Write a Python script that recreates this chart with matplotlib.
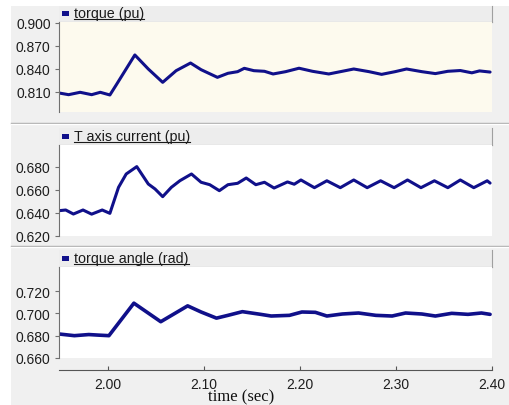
import matplotlib
matplotlib.use("Agg")
import matplotlib.pyplot as plt
from matplotlib.patches import Rectangle
from matplotlib.lines import Line2D
from matplotlib.transforms import Affine2D

# values (time in s)
torque_t = [1.949, 1.959, 1.971, 1.983, 1.992, 2.002, 2.009, 2.028, 2.042, 2.057,
            2.071, 2.086, 2.097, 2.114, 2.125, 2.135, 2.142, 2.152, 2.163, 2.172,
            2.185, 2.199, 2.213, 2.230, 2.244, 2.256, 2.272, 2.285, 2.299, 2.311,
            2.327, 2.341, 2.354, 2.367, 2.379, 2.387, 2.398]
torque_v = [0.8087, 0.8065, 0.8096, 0.8065, 0.8096, 0.8061, 0.8200, 0.8583, 0.8400, 0.8226,
            0.8378, 0.8478, 0.8391, 0.8291, 0.8344, 0.8365, 0.8409, 0.8378, 0.8370, 0.8335,
            0.8365, 0.8410, 0.8370, 0.8335, 0.8370, 0.8400, 0.8365, 0.8330, 0.8365, 0.8400,
            0.8365, 0.8340, 0.8370, 0.8380, 0.8350, 0.8375, 0.8360]

current_t = [1.949, 1.956, 1.964, 1.974, 1.983, 1.994, 2.002, 2.011, 2.019, 2.030,
             2.042, 2.049, 2.057, 2.066, 2.075, 2.087, 2.097, 2.106, 2.116, 2.125,
             2.135, 2.144, 2.154, 2.163, 2.173, 2.187, 2.194, 2.201, 2.215, 2.228,
             2.242, 2.256, 2.270, 2.284, 2.298, 2.312, 2.326, 2.340, 2.354, 2.367,
             2.381, 2.395, 2.398]
current_v = [0.6420, 0.6426, 0.6391, 0.6426, 0.6390, 0.6426, 0.6397, 0.6623, 0.6739, 0.6803,
             0.6652, 0.6609, 0.6542, 0.6623, 0.6681, 0.6739, 0.6667, 0.6646, 0.6594, 0.6646,
             0.6658, 0.6704, 0.6646, 0.6667, 0.6617, 0.6670, 0.6650, 0.6687, 0.6620, 0.6680,
             0.6620, 0.6687, 0.6620, 0.6680, 0.6620, 0.6687, 0.6620, 0.6680, 0.6620, 0.6687,
             0.6620, 0.6680, 0.6660]

angle_t = [1.949, 1.965, 1.980, 1.990, 2.001, 2.027, 2.055, 2.083, 2.097, 2.113,
           2.125, 2.140, 2.159, 2.170, 2.189, 2.202, 2.216, 2.228, 2.244, 2.261,
           2.279, 2.296, 2.310, 2.327, 2.341, 2.358, 2.375, 2.389, 2.398]
angle_v = [0.6815, 0.6800, 0.6810, 0.6805, 0.6800, 0.7091, 0.6925, 0.7067, 0.7012, 0.6957,
           0.6982, 0.7015, 0.6991, 0.6976, 0.6982, 0.7012, 0.7009, 0.6976, 0.6994, 0.7003,
           0.6982, 0.6976, 0.7003, 0.6994, 0.6976, 0.7000, 0.6991, 0.7003, 0.6991]

titles = ["torque (pu)", "T axis current (pu)", "torque angle (rad)"]
yticks = [[0.810, 0.840, 0.870, 0.900],
          [0.620, 0.640, 0.660, 0.680],
          [0.660, 0.680, 0.700, 0.720]]
xticks = [2.00, 2.10, 2.20, 2.30, 2.40]

W, H = 509, 406
fig = plt.figure(figsize=(W / 100, H / 100), dpi=100, facecolor="white")
pix = Affine2D().scale(1 / W, -1 / H).translate(0, 1) + fig.transFigure
SANS = "Liberation Sans"
NAVY = "#10108a"


def box(x0, y0, x1, y1):
    return [x0 / W, 1 - y1 / H, (x1 - x0) / W, (y1 - y0) / H]


fig.patches.append(Rectangle((11, 7), W - 11, H - 7, transform=pix,
                             facecolor="#f0f0f0", edgecolor="none", zorder=-10))

# separators between panels
for ys in (124, 247):
    fig.add_artist(Line2D([11, W], [ys, ys], transform=pix, color="#a9a9a9", lw=1))
    fig.add_artist(Line2D([11, W], [ys + 1, ys + 1], transform=pix, color="white", lw=1))

# (plot top, plot bottom, header top, text baseline, ylim, face, lw)
layout = [
    (23, 113, 7, 18, (0.7839, 0.9013), "#fdfaee", 2.2),
    (146, 237, 129, 141, (0.620, 0.6991), "white", 2.2),
    (268, 359, 251, 263, (0.660, 0.7415), "white", 2.6),
]
series = [(torque_t, torque_v), (current_t, current_v), (angle_t, angle_v)]

texts = []
for i, (py0, py1, hy0, base, ylim, face, lw) in enumerate(layout):
    hax = fig.add_axes(box(59, hy0, 492, py0))
    hax.set_facecolor("#ededed")
    hax.set_xticks([])
    hax.set_yticks([])
    for s in ("top", "left"):
        hax.spines[s].set_visible(False)
    for s in ("right", "bottom"):
        hax.spines[s].set_color("#a0a0a0")

    fig.patches.append(Rectangle((62, base - 6), 7, 4.5, transform=pix,
                                 facecolor=NAVY, edgecolor="none", zorder=5))
    txt = fig.text(74 / W, 1 - base / H, titles[i], fontsize=10.3, family=SANS,
                   color="#1a1a1a", va="baseline", ha="left", zorder=5)
    texts.append((txt, base))

    ax = fig.add_axes(box(59, py0, 492, py1))
    ax.set_facecolor(face)
    t, v = series[i]
    ax.plot(t, v, color=NAVY, lw=lw, solid_joinstyle="round", solid_capstyle="round")
    ax.set_xlim(1.949, 2.40)
    ax.set_ylim(*ylim)
    ax.set_xticks([])
    ax.set_yticks(yticks[i])
    ax.set_yticklabels([f"{y:.3f}" for y in yticks[i]], family=SANS)
    for s in ("top", "right", "bottom"):
        ax.spines[s].set_visible(False)
    ax.spines["left"].set_color("#707070")
    ax.tick_params(axis="y", length=3, width=0.8, color="#707070",
                   labelsize=10, labelcolor="#1e1e1e", pad=3)

# bottom time axis
xax = fig.add_axes(box(59, 360, 492, 371))
xax.patch.set_visible(False)
xax.set_xlim(1.949, 2.40)
xax.set_yticks([])
xax.set_xticks(xticks)
xax.set_xticklabels([f"{x:.2f}" for x in xticks], family=SANS)
for s in ("top", "left", "right"):
    xax.spines[s].set_visible(False)
xax.spines["bottom"].set_color("#555555")
xax.tick_params(axis="x", direction="in", length=3, width=0.8, color="#555555",
                labelsize=10, labelcolor="#1e1e1e", pad=5)
fig.text(241.5 / W, 1 - 401 / H, "time (sec)", fontsize=12, family="Liberation Serif",
         color="#111111", ha="center", va="baseline")

# underline the panel titles
renderer = fig.canvas.get_renderer()
for txt, base in texts:
    bb = txt.get_window_extent(renderer)
    fig.add_artist(Line2D([bb.x0 / W, bb.x1 / W], [1 - (base + 1.5) / H] * 2,
                          transform=fig.transFigure, color="#1a1a1a", lw=0.8))

fig.savefig("out.png", dpi=100, facecolor=fig.get_facecolor())
